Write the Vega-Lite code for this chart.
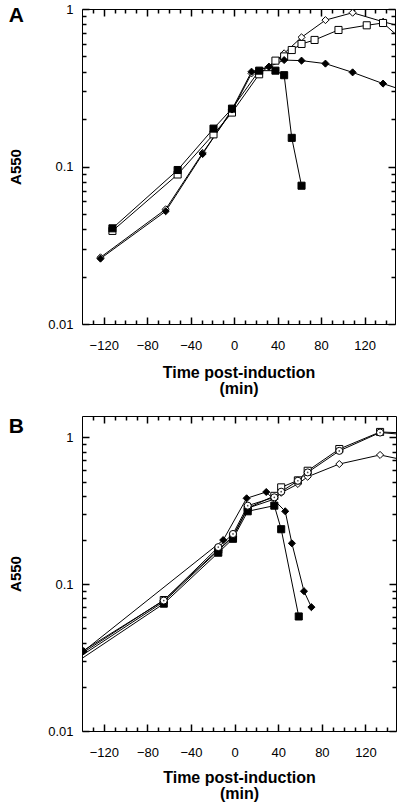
{
  "$schema": "https://vega.github.io/schema/vega-lite/v6.json",
  "padding": {"left": 8, "top": 2, "right": 6, "bottom": 4},
  "spacing": 17,
  "config": {
    "font": "Liberation Sans",
    "view": {"stroke": "black", "strokeWidth": 1},
    "axis": {"domain": false, "grid": false, "ticks": true, "tickColor": "#000000", "tickWidth": 1.5, "tickOpacity": 1, "labelColor": "black", "titleColor": "black", "labelFont": "Liberation Sans", "titleFont": "Liberation Sans", "labelFontSize": 13, "titleFontSize": 16, "titleFontWeight": "bold", "labelFlush": false, "labelOverlap": false},
    "title": {"font": "Liberation Sans", "fontSize": 21, "fontWeight": "bold", "color": "black", "anchor": "start", "frame": "bounds"}
  },
  "datasets": {
    "A": [
      {"series": "A2", "t": -123, "a550": 0.0265},
      {"series": "A2", "t": -63, "a550": 0.0535},
      {"series": "A2", "t": -29, "a550": 0.122},
      {"series": "A2", "t": -2, "a550": 0.225},
      {"series": "A2", "t": 16, "a550": 0.39},
      {"series": "A2", "t": 32, "a550": 0.43},
      {"series": "A2", "t": 46, "a550": 0.523},
      {"series": "A2", "t": 62, "a550": 0.661},
      {"series": "A2", "t": 84, "a550": 0.85},
      {"series": "A2", "t": 109, "a550": 0.947},
      {"series": "A2", "t": 137, "a550": 0.83},
      {"series": "A2", "t": 165, "a550": 0.74},
      {"series": "A4", "t": -112, "a550": 0.039},
      {"series": "A4", "t": -52, "a550": 0.089},
      {"series": "A4", "t": -19, "a550": 0.16},
      {"series": "A4", "t": -2, "a550": 0.22},
      {"series": "A4", "t": 23, "a550": 0.385},
      {"series": "A4", "t": 38, "a550": 0.47},
      {"series": "A4", "t": 46, "a550": 0.50},
      {"series": "A4", "t": 53, "a550": 0.549},
      {"series": "A4", "t": 62, "a550": 0.60},
      {"series": "A4", "t": 74, "a550": 0.636},
      {"series": "A4", "t": 96, "a550": 0.736},
      {"series": "A4", "t": 122, "a550": 0.788},
      {"series": "A4", "t": 137, "a550": 0.815},
      {"series": "A4", "t": 165, "a550": 0.55},
      {"series": "A1", "t": -123, "a550": 0.026},
      {"series": "A1", "t": -63, "a550": 0.052},
      {"series": "A1", "t": -29, "a550": 0.12},
      {"series": "A1", "t": -2, "a550": 0.23},
      {"series": "A1", "t": 16, "a550": 0.40},
      {"series": "A1", "t": 32, "a550": 0.43},
      {"series": "A1", "t": 46, "a550": 0.474},
      {"series": "A1", "t": 62, "a550": 0.47},
      {"series": "A1", "t": 84, "a550": 0.45},
      {"series": "A1", "t": 109, "a550": 0.396},
      {"series": "A1", "t": 137, "a550": 0.336},
      {"series": "A1", "t": 165, "a550": 0.29},
      {"series": "A3", "t": -112, "a550": 0.0405},
      {"series": "A3", "t": -52, "a550": 0.095},
      {"series": "A3", "t": -19, "a550": 0.174},
      {"series": "A3", "t": -2, "a550": 0.233},
      {"series": "A3", "t": 23, "a550": 0.406},
      {"series": "A3", "t": 38, "a550": 0.406},
      {"series": "A3", "t": 46, "a550": 0.38},
      {"series": "A3", "t": 53, "a550": 0.152},
      {"series": "A3", "t": 62, "a550": 0.0755}
    ],
    "B": [
      {"series": "B4", "t": -145, "a550": 0.031},
      {"series": "B4", "t": -65, "a550": 0.076},
      {"series": "B4", "t": -15, "a550": 0.17},
      {"series": "B4", "t": -1.5, "a550": 0.21},
      {"series": "B4", "t": 12, "a550": 0.33},
      {"series": "B4", "t": 36.4, "a550": 0.38},
      {"series": "B4", "t": 42.7, "a550": 0.42},
      {"series": "B4", "t": 58, "a550": 0.482},
      {"series": "B4", "t": 67, "a550": 0.54},
      {"series": "B4", "t": 96, "a550": 0.659},
      {"series": "B4", "t": 133.4, "a550": 0.76},
      {"series": "B4", "t": 160, "a550": 0.69},
      {"series": "B3", "t": -145, "a550": 0.032},
      {"series": "B3", "t": -65, "a550": 0.078},
      {"series": "B3", "t": -15, "a550": 0.172},
      {"series": "B3", "t": -1.5, "a550": 0.212},
      {"series": "B3", "t": 12, "a550": 0.33},
      {"series": "B3", "t": 36.4, "a550": 0.40},
      {"series": "B3", "t": 42.7, "a550": 0.457},
      {"series": "B3", "t": 58, "a550": 0.51},
      {"series": "B3", "t": 67, "a550": 0.593},
      {"series": "B3", "t": 96, "a550": 0.834},
      {"series": "B3", "t": 133.4, "a550": 1.09},
      {"series": "B3", "t": 160, "a550": 1.07},
      {"series": "B2", "t": -145, "a550": 0.0295},
      {"series": "B2", "t": -65, "a550": 0.0737},
      {"series": "B2", "t": -15, "a550": 0.164},
      {"series": "B2", "t": -1.5, "a550": 0.204},
      {"series": "B2", "t": 12, "a550": 0.314},
      {"series": "B2", "t": 36.4, "a550": 0.343},
      {"series": "B2", "t": 42.7, "a550": 0.237},
      {"series": "B2", "t": 58.8, "a550": 0.0603},
      {"series": "B5", "t": -145, "a550": 0.033},
      {"series": "B5", "t": -65, "a550": 0.0774},
      {"series": "B5", "t": -15, "a550": 0.179},
      {"series": "B5", "t": -1.5, "a550": 0.22},
      {"series": "B5", "t": 12, "a550": 0.343},
      {"series": "B5", "t": 36.4, "a550": 0.391},
      {"series": "B5", "t": 42.7, "a550": 0.427},
      {"series": "B5", "t": 58, "a550": 0.507},
      {"series": "B5", "t": 67, "a550": 0.578},
      {"series": "B5", "t": 96, "a550": 0.81},
      {"series": "B5", "t": 133.4, "a550": 1.08},
      {"series": "B5", "t": 160, "a550": 1.04},
      {"series": "B1", "t": -138.5, "a550": 0.035},
      {"series": "B1", "t": -10.5, "a550": 0.20},
      {"series": "B1", "t": 11, "a550": 0.385},
      {"series": "B1", "t": 29, "a550": 0.425},
      {"series": "B1", "t": 46.4, "a550": 0.314},
      {"series": "B1", "t": 52.5, "a550": 0.19},
      {"series": "B1", "t": 63.6, "a550": 0.0896},
      {"series": "B1", "t": 70.4, "a550": 0.0698}
    ]
  },
  "vconcat": [
    {
      "title": {"text": "A", "offset": -23},
      "width": 313,
      "height": 315,
      "data": {"name": "A"},
      "resolve": {"axis": {"x": "independent", "y": "independent"}},
      "layer": [
        {
          "mark": {"type": "line", "color": "black", "strokeWidth": 1, "clip": true},
          "encoding": {
            "x": {"field": "t", "type": "quantitative", "scale": {"domain": [-140, 148], "nice": false, "zero": false},
              "axis": {"orient": "bottom", "values": [-120, -80, -40, 0, 40, 80, 120], "offset": -7, "tickSize": 7, "tickWidth": 1.5, "tickColor": "#000000", "labelPadding": 15, "title": ["Time  post-induction", "(min)"], "titlePadding": 12, "titleLineHeight": 16}},
            "y": {"field": "a550", "type": "quantitative", "scale": {"type": "log", "domain": [0.01, 1], "nice": false},
              "axis": {"orient": "left", "values": [0.01, 0.1, 1], "format": "~g", "offset": -7, "tickSize": 7, "tickWidth": 1.5, "tickColor": "#000000", "labelPadding": 9, "title": "A550", "titlePadding": 24, "titleFontSize": 15}},
            "detail": {"field": "series"},
            "order": {"field": "t", "type": "quantitative"}
          }
        },
        {
          "mark": {"type": "point", "filled": true, "stroke": "black", "strokeWidth": 1, "size": 50, "opacity": 1, "clip": true},
          "encoding": {
            "x": {"field": "t", "type": "quantitative", "scale": {"domain": [-140, 148], "nice": false, "zero": false},
              "axis": {"orient": "bottom", "values": [-130, -110, -100, -90, -70, -60, -50, -30, -20, -10, 10, 20, 30, 50, 60, 70, 90, 100, 110, 130, 140], "offset": -4, "tickSize": 4, "tickWidth": 1.5, "tickColor": "#000000", "labels": false, "title": null}},
            "y": {"field": "a550", "type": "quantitative", "scale": {"type": "log", "domain": [0.01, 1], "nice": false},
              "axis": {"orient": "left", "values": [0.02, 0.03, 0.04, 0.05, 0.06, 0.07, 0.08, 0.09, 0.2, 0.3, 0.4, 0.5, 0.6, 0.7, 0.8, 0.9], "offset": -4, "tickSize": 4, "tickWidth": 1.5, "tickColor": "#000000", "labels": false, "title": null}},
            "shape": {"field": "series", "scale": {"domain": ["A1", "A2", "A3", "A4", "B1", "B2", "B3", "B4", "B5"], "range": ["diamond", "diamond", "square", "square", "diamond", "square", "square", "diamond", "circle"]}, "legend": null},
            "fill": {"field": "series", "scale": {"domain": ["A1", "A2", "A3", "A4", "B1", "B2", "B3", "B4", "B5"], "range": ["black", "white", "black", "white", "black", "black", "white", "white", "white"]}, "legend": null}
          }
        },
        {
          "mark": {"type": "point", "opacity": 0, "clip": true},
          "encoding": {
            "x": {"field": "t", "type": "quantitative", "scale": {"domain": [-140, 148], "nice": false, "zero": false},
              "axis": {"orient": "top", "values": [-120, -80, -40, 0, 40, 80, 120], "offset": -7, "tickSize": 7, "tickWidth": 1.5, "tickColor": "#000000", "labels": false, "title": null}},
            "y": {"field": "a550", "type": "quantitative", "scale": {"type": "log", "domain": [0.01, 1], "nice": false},
              "axis": {"orient": "right", "values": [0.01, 0.1, 1], "offset": -7, "tickSize": 7, "tickWidth": 1.5, "tickColor": "#000000", "labels": false, "title": null}}
          }
        },
        {
          "mark": {"type": "point", "opacity": 0, "clip": true},
          "encoding": {
            "x": {"field": "t", "type": "quantitative", "scale": {"domain": [-140, 148], "nice": false, "zero": false},
              "axis": {"orient": "top", "values": [-130, -110, -100, -90, -70, -60, -50, -30, -20, -10, 10, 20, 30, 50, 60, 70, 90, 100, 110, 130, 140], "offset": -4, "tickSize": 4, "tickWidth": 1.5, "tickColor": "#000000", "labels": false, "title": null}},
            "y": {"field": "a550", "type": "quantitative", "scale": {"type": "log", "domain": [0.01, 1], "nice": false},
              "axis": {"orient": "right", "values": [0.02, 0.03, 0.04, 0.05, 0.06, 0.07, 0.08, 0.09, 0.2, 0.3, 0.4, 0.5, 0.6, 0.7, 0.8, 0.9], "offset": -4, "tickSize": 4, "tickWidth": 1.5, "tickColor": "#000000", "labels": false, "title": null}}
          }
        }
      ]
    },
    {
      "title": {"text": "B", "offset": -22},
      "width": 314,
      "height": 315,
      "data": {"name": "B"},
      "resolve": {"axis": {"x": "independent", "y": "independent"}},
      "layer": [
        {
          "mark": {"type": "line", "color": "black", "strokeWidth": 1, "clip": true},
          "encoding": {
            "x": {"field": "t", "type": "quantitative", "scale": {"domain": [-140, 148], "nice": false, "zero": false},
              "axis": {"orient": "bottom", "values": [-120, -80, -40, 0, 40, 80, 120], "offset": -7, "tickSize": 7, "tickWidth": 1.5, "tickColor": "#000000", "labelPadding": 15, "title": ["Time  post-induction", "(min)"], "titlePadding": 10, "titleLineHeight": 16}},
            "y": {"field": "a550", "type": "quantitative", "scale": {"type": "log", "domain": [0.01, 1.4], "nice": false},
              "axis": {"orient": "left", "values": [0.01, 0.1, 1], "format": "~g", "offset": -7, "tickSize": 7, "tickWidth": 1.5, "tickColor": "#000000", "labelPadding": 9, "title": "A550", "titlePadding": 24, "titleFontSize": 15}},
            "detail": {"field": "series"},
            "order": {"field": "t", "type": "quantitative"}
          }
        },
        {
          "mark": {"type": "point", "filled": true, "stroke": "black", "strokeWidth": 1, "size": 50, "opacity": 1, "clip": true},
          "encoding": {
            "x": {"field": "t", "type": "quantitative", "scale": {"domain": [-140, 148], "nice": false, "zero": false},
              "axis": {"orient": "bottom", "values": [-130, -110, -100, -90, -70, -60, -50, -30, -20, -10, 10, 20, 30, 50, 60, 70, 90, 100, 110, 130, 140], "offset": -4, "tickSize": 4, "tickWidth": 1.5, "tickColor": "#000000", "labels": false, "title": null}},
            "y": {"field": "a550", "type": "quantitative", "scale": {"type": "log", "domain": [0.01, 1.4], "nice": false},
              "axis": {"orient": "left", "values": [0.02, 0.03, 0.04, 0.05, 0.06, 0.07, 0.08, 0.09, 0.2, 0.3, 0.4, 0.5, 0.6, 0.7, 0.8, 0.9], "offset": -4, "tickSize": 4, "tickWidth": 1.5, "tickColor": "#000000", "labels": false, "title": null}},
            "shape": {"field": "series", "scale": {"domain": ["A1", "A2", "A3", "A4", "B1", "B2", "B3", "B4", "B5"], "range": ["diamond", "diamond", "square", "square", "diamond", "square", "square", "diamond", "circle"]}, "legend": null},
            "fill": {"field": "series", "scale": {"domain": ["A1", "A2", "A3", "A4", "B1", "B2", "B3", "B4", "B5"], "range": ["black", "white", "black", "white", "black", "black", "white", "white", "white"]}, "legend": null}
          }
        },
        {
          "transform": [{"filter": "datum.series === 'B5'"}],
          "mark": {"type": "point", "filled": true, "color": "black", "size": 3, "clip": true},
          "encoding": {
            "x": {"field": "t", "type": "quantitative", "scale": {"domain": [-140, 148], "nice": false, "zero": false},
              "axis": {"orient": "top", "values": [-120, -80, -40, 0, 40, 80, 120], "offset": -7, "tickSize": 7, "tickWidth": 1.5, "tickColor": "#000000", "labels": false, "title": null}},
            "y": {"field": "a550", "type": "quantitative", "scale": {"type": "log", "domain": [0.01, 1.4], "nice": false},
              "axis": {"orient": "right", "values": [0.01, 0.1, 1], "offset": -7, "tickSize": 7, "tickWidth": 1.5, "tickColor": "#000000", "labels": false, "title": null}}
          }
        },
        {
          "mark": {"type": "point", "opacity": 0, "clip": true},
          "encoding": {
            "x": {"field": "t", "type": "quantitative", "scale": {"domain": [-140, 148], "nice": false, "zero": false},
              "axis": {"orient": "top", "values": [-130, -110, -100, -90, -70, -60, -50, -30, -20, -10, 10, 20, 30, 50, 60, 70, 90, 100, 110, 130, 140], "offset": -4, "tickSize": 4, "tickWidth": 1.5, "tickColor": "#000000", "labels": false, "title": null}},
            "y": {"field": "a550", "type": "quantitative", "scale": {"type": "log", "domain": [0.01, 1.4], "nice": false},
              "axis": {"orient": "right", "values": [0.02, 0.03, 0.04, 0.05, 0.06, 0.07, 0.08, 0.09, 0.2, 0.3, 0.4, 0.5, 0.6, 0.7, 0.8, 0.9], "offset": -4, "tickSize": 4, "tickWidth": 1.5, "tickColor": "#000000", "labels": false, "title": null}}
          }
        }
      ]
    }
  ]
}
